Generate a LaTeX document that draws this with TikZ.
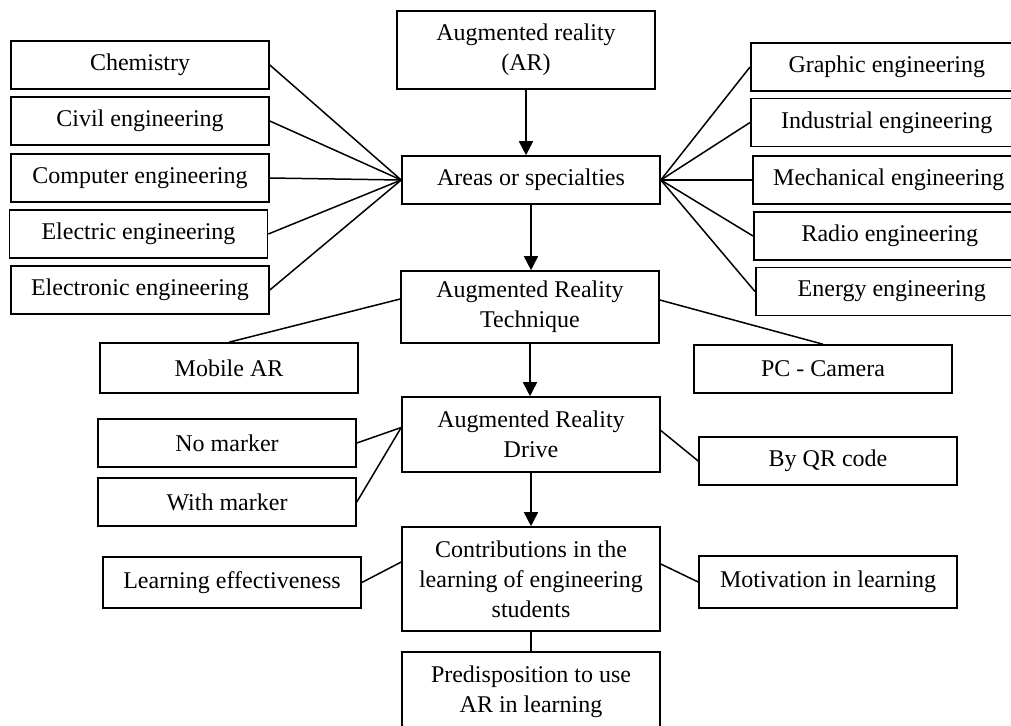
\documentclass[tikz,border=0pt]{standalone}
\usepackage{fontspec}
\setmainfont{Liberation Serif}
\usetikzlibrary{arrows.meta}

\begin{document}
\begin{tikzpicture}[x=0.5pt, y=-0.5pt,
    box/.style={draw, line width=0.8pt, minimum width=129pt, minimum height=24pt,
      align=center, inner sep=2pt, font=\fontsize{12}{15}\selectfont},
    wbox/.style={box, minimum width=136pt, anchor=west},
    link/.style={line width=0.75pt},
    flow/.style={line width=0.8pt, -{Triangle[length=7pt,width=7pt]}}]
        \useasboundingbox (0,0) rectangle (1011,725);
        \clip (0,0) rectangle (1011,725);

        \node[box, minimum height=39pt] (ar) at (526,50) {Augmented reality\\(AR)};
        \node[box] (areas) at (531,180) {Areas or specialties};
        \node[box, minimum height=36pt] (tech) at (530,307) {Augmented Reality\\Technique};
        \node[box, minimum height=37.5pt] (drive) at (531,434.5) {Augmented Reality\\Drive};
        \node[box, minimum height=52pt] (contrib) at (531,579) {Contributions in the\\learning of engineering\\students};
        \node[box, minimum height=40pt] (predis) at (531,692) {Predisposition to use\\AR in learning};

        \node[box] (chem) at (140,65) {Chemistry};
        \node[box] (civil) at (140,121) {Civil engineering};
        \node[box] (comp) at (140,178) {Computer engineering};
        \node[box] (elec) at (138.5,234) {Electric engineering};
        \node[box] (elecn) at (140,290) {Electronic engineering};

        \node[wbox] (graph) at (750,67) {Graphic engineering};
        \node[wbox] (indus) at (750,122.5) {Industrial engineering};
        \node[wbox] (mech) at (752,180) {Mechanical engineering};
        \node[wbox] (radio) at (753,236) {Radio engineering};
        \node[wbox] (energy) at (755,291.5) {Energy engineering};

        \node[box, minimum height=25pt] (mobile) at (229,368) {Mobile AR};
        \node[box] (pccam) at (823,369) {PC - Camera};
        \node[box] (nomark) at (227,443) {No marker};
        \node[box] (withmark) at (227,502) {With marker};
        \node[box] (qr) at (828,461) {By QR code};
        \node[box, minimum height=25.5pt] (effect) at (232,582.5) {Learning effectiveness};
        \node[box, minimum height=26pt] (motiv) at (828,582) {Motivation in learning};

        \draw[flow] (ar.south) -- (ar.south |- areas.north);
        \draw[flow] (areas.south) -- (areas.south |- tech.north);
        \draw[flow] (tech.south) -- (tech.south |- drive.north);
        \draw[flow] (drive.south) -- (drive.south |- contrib.north);
        \draw[link] (contrib.south) -- (predis.north);

        \foreach \n in {chem, civil, comp, elec, elecn}
            \draw[link] (\n.east) -- (areas.west);
        \foreach \n in {graph, indus, mech, radio, energy}
            \draw[link] (areas.east) -- (\n.west);

        \draw[link] ([yshift=4pt]tech.west) -- (mobile.north);
        \draw[link] ([yshift=3.5pt]tech.east) -- (pccam.north);
        \draw[link] (nomark.east) -- ([yshift=3.5pt]drive.west);
        \draw[link] (withmark.east) -- ([yshift=3.5pt]drive.west);
        \draw[link] ([yshift=2pt]drive.east) -- (qr.west);
        \draw[link] (effect.east) -- ([yshift=8.5pt]contrib.west);
        \draw[link] ([yshift=7.5pt]contrib.east) -- (motiv.west);
    \end{tikzpicture}
\end{document}
